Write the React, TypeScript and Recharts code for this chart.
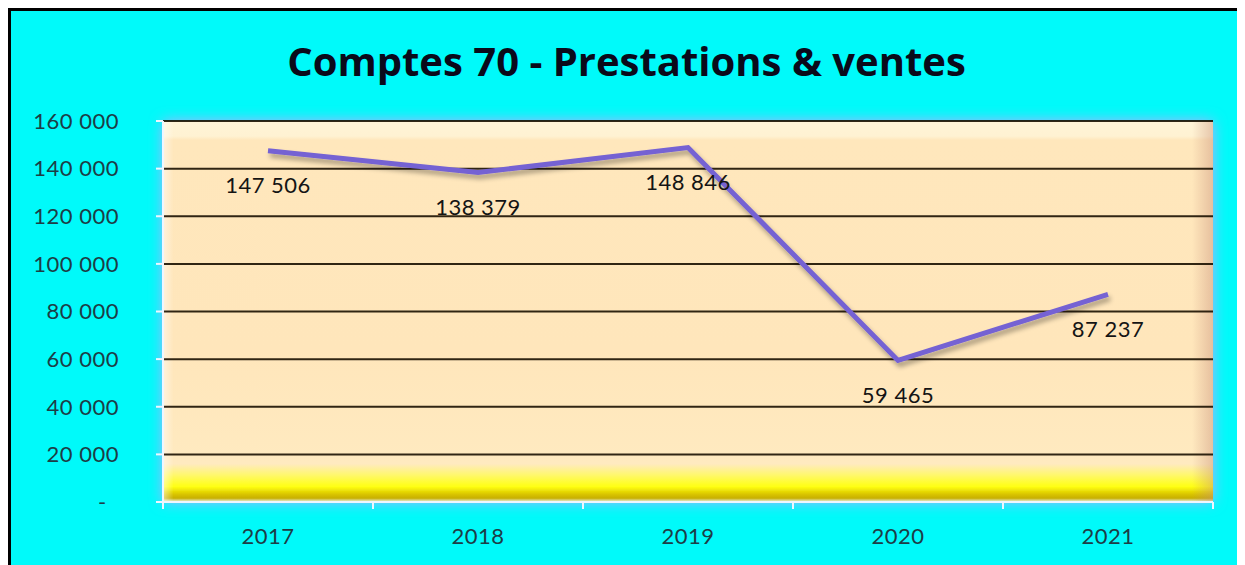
import React from 'react';
import { ComposedChart, Line, XAxis, YAxis, CartesianGrid, ReferenceArea, LabelList } from 'recharts';

const years = ['2017', '2018', '2019', '2020', '2021'];
const ventes = [147506, 138379, 148846, 59465, 87237];
const yTicks = [0, 20000, 40000, 60000, 80000, 100000, 120000, 140000, 160000];

const data = years.map((year, i) => ({ year, ventes: ventes[i] }));

const fmt = (v: number) => String(v).replace(/\B(?=(\d{3})+(?!\d))/g, ' ');
// accounting style: zero shows as a dash, padded a little from the right
const fmtAxis = (v: number) => (v === 0 ? '-\u00a0\u00a0' : fmt(v));

const FONT = 'Lato, "Noto Sans", sans-serif';

// x tick: label at the band centre, small light tick marks on the band edges (Excel style)
const YearTick = (props: any) => {
  const { x, y, payload, index } = props;
  const half = payload && payload.offset ? payload.offset : 105;
  return (
    <g>
      <line x1={x - half} x2={x - half} y1={y - 26} y2={y - 19} stroke="#eef6ff" strokeWidth={2} />
      {index === years.length - 1 && (
        <line x1={x + half} x2={x + half} y1={y - 26} y2={y - 19} stroke="#eef6ff" strokeWidth={2} />
      )}
      <text
        x={x}
        y={y}
        dy="0.71em"
        textAnchor="middle"
        fill="#1d3d46"
        fontSize={22}
        letterSpacing={0.5}
        fontFamily={FONT}
      >
        {payload.value}
      </text>
    </g>
  );
};

export default function App() {
  return (
    <div
      style={{
        position: 'relative',
        width: 1227,
        height: 570,
        background: '#00fafa',
        border: '3px solid #000',
        fontFamily: FONT,
        overflow: 'hidden',
      }}
    >
      <div
        style={{
          position: 'absolute',
          top: 22,
          left: 0,
          width: '100%',
          textAlign: 'center',
          fontSize: 40,
          fontWeight: 700,
          fontFamily: '"Open Sans", Lato, sans-serif',
          color: '#0a0a1a',
          paddingLeft: 2,
        }}
      >
        Comptes 70 - Prestations &amp; ventes
      </div>
      <ComposedChart
        width={1227}
        height={556}
        data={data}
        margin={{ top: 110, right: 25, bottom: 0, left: 0 }}
        style={{ position: 'absolute', top: 0, left: 0 }}
      >
        <defs>
          <linearGradient id="wallV" x1="0" y1="0" x2="0" y2="1">
            <stop offset="0%" stopColor="#fff4d8" />
            <stop offset="4%" stopColor="#fff2d2" />
            <stop offset="5%" stopColor="#ffe7bc" />
            <stop offset="60%" stopColor="#ffe6bb" />
            <stop offset="90%" stopColor="#ffeac0" />
            <stop offset="93%" stopColor="#fff86a" />
            <stop offset="96%" stopColor="#ffff10" />
            <stop offset="98%" stopColor="#d9c400" />
            <stop offset="99%" stopColor="#c8b000" />
            <stop offset="100%" stopColor="#e8f6ff" />
          </linearGradient>
          <linearGradient id="wallH" x1="0" y1="0" x2="1" y2="0">
            <stop offset="0%" stopColor="#ffffff" stopOpacity={0.5} />
            <stop offset="1%" stopColor="#ffffff" stopOpacity={0} />
            <stop offset="98%" stopColor="#c8907a" stopOpacity={0} />
            <stop offset="100%" stopColor="#c8907a" stopOpacity={0.45} />
          </linearGradient>
          <filter id="glow" x="-5%" y="-10%" width="110%" height="120%">
            <feGaussianBlur in="SourceAlpha" stdDeviation="7" result="blur" />
            <feFlood floodColor="#b9a8ff" floodOpacity="1" />
            <feComposite in2="blur" operator="in" result="glowC" />
            <feMerge>
              <feMergeNode in="glowC" />
              <feMergeNode in="SourceGraphic" />
            </feMerge>
          </filter>
          <filter id="lineShadow" x="-5%" y="-20%" width="110%" height="140%">
            <feGaussianBlur in="SourceAlpha" stdDeviation="2.5" result="b" />
            <feOffset dx="2" dy="4" in="b" result="o" />
            <feComponentTransfer in="o" result="s">
              <feFuncA type="linear" slope="0.35" />
            </feComponentTransfer>
            <feMerge>
              <feMergeNode in="s" />
              <feMergeNode in="SourceGraphic" />
            </feMerge>
          </filter>
        </defs>
        <ReferenceArea
          y1={0}
          y2={160000}
          fill="url(#wallV)"
          fillOpacity={1}
          filter="url(#glow)"
          ifOverflow="visible"
          zIndex={-300}
        />
        <ReferenceArea y1={0} y2={160000} fill="url(#wallH)" fillOpacity={1} ifOverflow="visible" zIndex={-250} />
        <CartesianGrid vertical={false} stroke="#1a1000" strokeWidth={2} strokeOpacity={0.9} />
        <XAxis
          dataKey="year"
          scale="band"
          axisLine={{ stroke: '#eef6ff', strokeWidth: 2 }}
          tickLine={false}
          tickSize={0}
          tickMargin={26}
          height={65}
          interval={0}
          tick={<YearTick />}
        />
        <YAxis
          width={152}
          domain={[0, 160000]}
          ticks={yTicks}
          interval={0}
          tickFormatter={fmtAxis}
          axisLine={{ stroke: '#eef6ff', strokeWidth: 2 }}
          tickLine={{ stroke: '#eef6ff', strokeWidth: 2 }}
          tickSize={7}
          tickMargin={37}
          tick={{ fill: '#1d3d46', fontSize: 22, fontFamily: FONT, letterSpacing: 0.5 }}
        />
        <Line
          dataKey="ventes"
          type="linear"
          stroke="#7562d3"
          strokeWidth={5}
          dot={false}
          activeDot={false}
          isAnimationActive={false}
          filter="url(#lineShadow)"
        >
          <LabelList
            dataKey="ventes"
            position="bottom"
            offset={27}
            formatter={(v: any) => fmt(Number(v))}
            fill="#141414"
            fontSize={22}
            letterSpacing={0.5}
            fontFamily={FONT}
          />
        </Line>
      </ComposedChart>
    </div>
  );
}
